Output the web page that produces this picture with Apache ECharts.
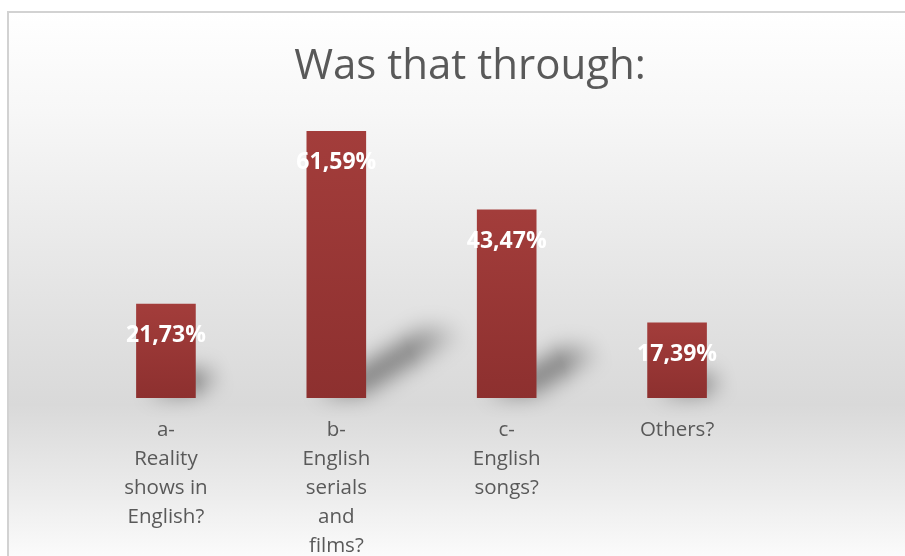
<!DOCTYPE html>
<html>
<head>
<meta charset="utf-8">
<style>
  html, body { margin: 0; padding: 0; background: #ffffff; }
  #chart { width: 905px; height: 556px; }
</style>
<script src="https://cdn.jsdelivr.net/npm/echarts@6/dist/echarts.min.js"></script>
</head>
<body>
<div id="chart"></div>
<script>
// Survey answers: how the exposure to English happened
const categories = [
  'a-\nReality\nshows in\nEnglish?',
  'b-\nEnglish\nserials\nand\nfilms?',
  'c-\nEnglish\nsongs?',
  'Others?'
];
const shares = [21.73, 61.59, 43.47, 17.39];
const shareLabels = ['21,73%', '61,59%', '43,47%', '17,39%'];

const chart = echarts.init(document.getElementById('chart'));

const BAR_RATIO = 0.35;
// The shadow shape is drawn off to the left and only its blurred
// canvas shadow is shifted back into place, giving a soft edge.
const SHIFT = 1200;

// Skewed floor shadow cast to the upper right of each bar
function renderShadow(params, api) {
  const idx = api.value(0);
  const val = api.value(1);
  const base = api.coord([idx, 0]);
  const top = api.coord([idx, val]);
  const band = api.size([1, 0])[0];
  const w = band * BAR_RATIO;
  const h = base[1] - top[1];
  const xl = base[0] - w / 2;
  const xr = base[0] + w / 2;
  const by = base[1] - 4;
  const dx = h * 0.4;
  const dy = h * 0.25;
  const shrink = w * 0.2;
  return {
    type: 'polygon',
    shape: {
      points: [
        [xl + w * 0.2 - SHIFT, by],
        [xr - 4 - SHIFT, by],
        [xr + dx - SHIFT, by - dy],
        [xl + dx + shrink - SHIFT, by - dy]
      ]
    },
    style: {
      fill: new echarts.graphic.LinearGradient(0, 1, 1, 0, [
        { offset: 0, color: 'rgba(0,0,0,1)' },
        { offset: 0.6, color: 'rgba(0,0,0,0.9)' },
        { offset: 1, color: 'rgba(0,0,0,0.0)' }
      ]),
      shadowBlur: 22,
      shadowOffsetX: SHIFT,
      shadowColor: 'rgba(65,65,65,0.68)'
    }
  };
}

chart.setOption({
  animation: false,
  graphic: [{
    type: 'rect',
    z: -10,
    silent: true,
    shape: { x: 8, y: 12, width: 905, height: 560 },
    style: {
      stroke: '#d2d2d2',
      lineWidth: 2,
      fill: new echarts.graphic.LinearGradient(0, 0, 0, 1, [
        { offset: 0, color: '#ffffff' },
        { offset: 0.18, color: '#f7f7f7' },
        { offset: 0.5, color: '#e4e4e4' },
        { offset: 0.7, color: '#d9d9d9' },
        { offset: 0.86, color: '#ececec' },
        { offset: 1, color: '#ffffff' }
      ])
    }
  }],
  title: {
    text: 'Was that through:',
    left: 465,
    top: 41,
    textAlign: 'center',
    textStyle: {
      fontFamily: 'Open Sans',
      fontWeight: 'normal',
      fontSize: 42,
      color: '#595959'
    }
  },
  grid: {
    left: 80.75,
    right: 142.75,
    top: 94.5,
    bottom: 158,
    outerBoundsMode: 'none'
  },
  xAxis: {
    type: 'category',
    data: categories,
    axisLine: { show: false },
    axisTick: { show: false },
    axisLabel: {
      interval: 0,
      margin: 18,
      fontFamily: 'Open Sans',
      fontSize: 20.5,
      lineHeight: 29,
      color: '#595959'
    }
  },
  yAxis: {
    type: 'value',
    min: 0,
    max: 70,
    show: false,
    splitLine: { show: false }
  },
  series: [
    {
      type: 'custom',
      renderItem: renderShadow,
      data: shares.map((v, i) => [i, v]),
      silent: true,
      clip: false,
      z: 1
    },
    {
      type: 'bar',
      data: shares,
      barWidth: (BAR_RATIO * 100) + '%',
      z: 2,
      itemStyle: {
        color: new echarts.graphic.LinearGradient(0, 0, 0, 1, [
          { offset: 0, color: '#a33d3b' },
          { offset: 1, color: '#8d302f' }
        ])
      },
      label: {
        show: true,
        position: 'insideTop',
        distance: 20,
        formatter: (p) => shareLabels[p.dataIndex],
        fontFamily: 'Open Sans',
        fontWeight: 'bold',
        fontSize: 23,
        color: '#ffffff'
      }
    }
  ]
});
</script>
</body>
</html>
